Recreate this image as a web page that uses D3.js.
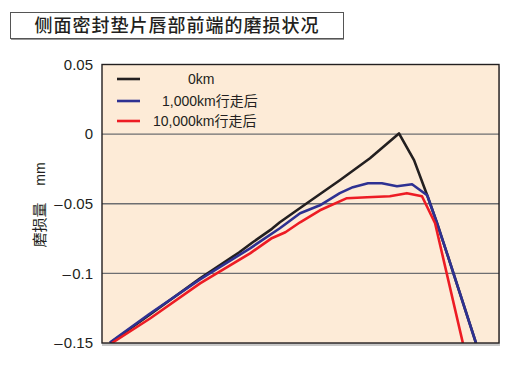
<!DOCTYPE html>
<html><head><meta charset="utf-8">
<script src="https://cdn.jsdelivr.net/npm/d3@7"></script>
<style>
body{margin:0;background:#fff;}
text{font-family:"Liberation Sans",Arial,"Noto Sans CJK SC",sans-serif;fill:#231f20;}
</style></head>
<body>
<svg id="c" width="516" height="365"></svg>
<script>
const title = "侧面密封垫片唇部前端的磨损状况";
const yLabelMain = "磨损量";
const yLabelUnit = "mm";
const seriesNames = ["0km", "1,000km行走后", "10,000km行走后"];
const seriesColors = ["#231f20", "#2e3192", "#ed1c24"];
const yTicks = [0.05, 0, -0.05, -0.1, -0.15];
const yTickLabels = ["0.05", "0", "\u2013\u200a0.05", "\u2013\u200a0.1", "\u2013\u200a0.15"];

const pos0 = [2.0, 12.1, 24.7, 34.5, 37.8, 42.8, 44.8, 51.6, 59.9, 67.5, 74.8, 78.6, 82.1, 84.4, 86.9, 94.2];
const val0 = [-0.150, -0.1295, -0.1036, -0.0850, -0.0780, -0.0680, -0.0633, -0.0496, -0.0331, -0.0173, 0.0005, -0.0187, -0.0453, -0.0640, -0.0856, -0.150];

const pos1 = [2.0, 12.1, 24.7, 37.3, 44.8, 49.9, 54.9, 59.9, 63.2, 67.0, 70.5, 74.3, 78.1, 81.9, 84.4, 86.9, 94.2];
const val1 = [-0.1496, -0.1288, -0.1043, -0.0820, -0.0676, -0.0568, -0.0511, -0.0424, -0.0381, -0.0353, -0.0353, -0.0374, -0.0360, -0.0439, -0.0640, -0.0856, -0.150];

const pos2 = [2.5, 12.1, 24.7, 37.3, 42.6, 46.2, 49.9, 54.9, 61.7, 66.8, 72.5, 76.8, 80.6, 83.9, 90.9];
const val2 = [-0.150, -0.1324, -0.1072, -0.0856, -0.0750, -0.0705, -0.0633, -0.0547, -0.0460, -0.0453, -0.0446, -0.0424, -0.0446, -0.0640, -0.150];

const svg = d3.select("#c");
const L = 102, R = 499, T = 64.5, B = 343;
const x = d3.scaleLinear().domain([0, 100]).range([L, R]);
const y = d3.scaleLinear().domain([-0.15, 0.05]).range([B, T]);

// title box
svg.append("rect").attr("x", 10.5).attr("y", 12.5).attr("width", 333).attr("height", 26)
  .attr("fill", "#fff").attr("stroke", "#555").attr("stroke-width", 1);
svg.append("line").attr("x1", 11).attr("x2", 344).attr("y1", 39.5).attr("y2", 39.5).attr("stroke", "#999");
svg.append("text").attr("x", 177).attr("y", 32).attr("text-anchor", "middle")
  .attr("font-size", 18).attr("font-weight", 500).attr("letter-spacing", 1).text(title);

// plot shadow + background
svg.append("rect").attr("x", L).attr("y", T + 2).attr("width", R - L + 1).attr("height", B - T + 1)
  .attr("fill", "#c8c8c8");
svg.append("rect").attr("x", L).attr("y", T).attr("width", R - L).attr("height", B - T)
  .attr("fill", "#fdebd7");

// gridlines
svg.append("g").selectAll("line").data(yTicks.filter(d => d < 0.05 && d > -0.15)).join("line")
  .attr("x1", L).attr("x2", R).attr("y1", d => y(d)).attr("y2", d => y(d))
  .attr("stroke", "#6d6e71").attr("stroke-width", 1.3);

// y axis labels via d3 axis
const yAxis = d3.axisLeft(y).tickValues(yTicks).tickSize(0).tickPadding(9)
  .tickFormat((d, i) => yTickLabels[i]);
const ga = svg.append("g").attr("transform", `translate(${L},0)`).call(yAxis);
ga.select(".domain").remove();
ga.selectAll("text").attr("font-size", 15).attr("fill", "#231f20")
  .attr("font-family", "'Liberation Sans',Arial,sans-serif");

// clip
svg.append("clipPath").attr("id", "clip").append("rect")
  .attr("x", L).attr("y", T).attr("width", R - L).attr("height", B - T);

const line = d3.line().x(d => x(d[0])).y(d => y(d[1]));
const series = [d3.zip(pos0, val0), d3.zip(pos1, val1), d3.zip(pos2, val2)];
const gl = svg.append("g").attr("clip-path", "url(#clip)");
[0, 1, 2].forEach(i => {
  gl.append("path").datum(series[i]).attr("d", line).attr("fill", "none")
    .attr("stroke", seriesColors[i]).attr("stroke-width", 2.6).attr("stroke-linejoin", "round");
});

// border
svg.append("rect").attr("x", L).attr("y", T).attr("width", R - L).attr("height", B - T)
  .attr("fill", "none").attr("stroke", "#231f20").attr("stroke-width", 1.4);

// legend
const legY = [79, 101, 121];
const legTx = [188, 162, 153];
seriesNames.forEach((n, i) => {
  svg.append("line").attr("x1", 117).attr("x2", 140).attr("y1", legY[i]).attr("y2", legY[i])
    .attr("stroke", seriesColors[i]).attr("stroke-width", 2.6);
  svg.append("text").attr("x", legTx[i]).attr("y", legY[i] + 5).attr("font-size", 14).text(n);
});

// y label
svg.append("text").attr("transform", "translate(45,225) rotate(-90)").attr("text-anchor", "middle")
  .attr("font-size", 15).text(yLabelMain);
svg.append("text").attr("transform", "translate(45,174) rotate(-90)").attr("text-anchor", "middle")
  .attr("font-size", 14).text(yLabelUnit);
</script>
</body></html>
